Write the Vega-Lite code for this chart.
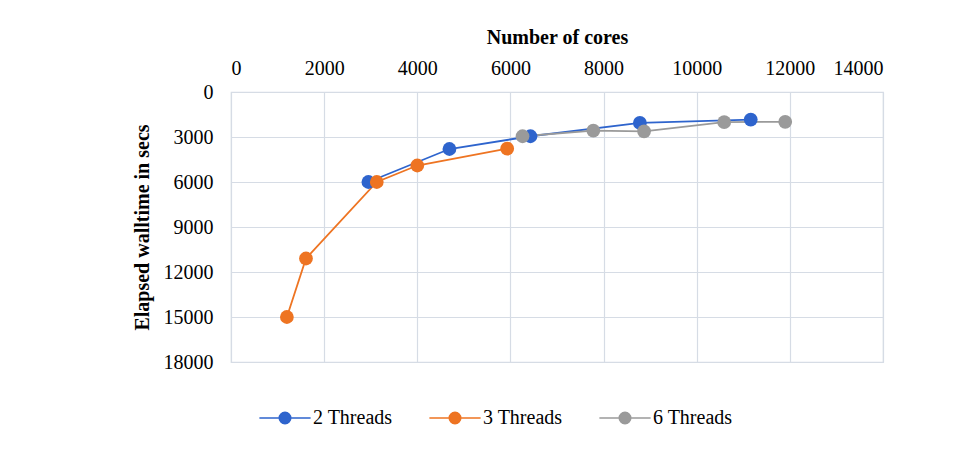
{
  "$schema": "https://vega.github.io/schema/vega-lite/v6.json",
  "autosize": "none",
  "width": 652,
  "height": 270,
  "padding": {"left": 231, "top": 92, "right": 89, "bottom": 92},
  "background": "white",
  "data": {
    "values": [
      {"series": "2 Threads", "cores": 2950, "time": 6000},
      {"series": "2 Threads", "cores": 4690, "time": 3800},
      {"series": "2 Threads", "cores": 6430, "time": 2950},
      {"series": "2 Threads", "cores": 8780, "time": 2060},
      {"series": "2 Threads", "cores": 11160, "time": 1840},
      {"series": "3 Threads", "cores": 1200, "time": 15000},
      {"series": "3 Threads", "cores": 1610, "time": 11100},
      {"series": "3 Threads", "cores": 3130, "time": 6000},
      {"series": "3 Threads", "cores": 4000, "time": 4900},
      {"series": "3 Threads", "cores": 5930, "time": 3780},
      {"series": "6 Threads", "cores": 6260, "time": 2950},
      {"series": "6 Threads", "cores": 7780, "time": 2570},
      {"series": "6 Threads", "cores": 8870, "time": 2620},
      {"series": "6 Threads", "cores": 10590, "time": 2010},
      {"series": "6 Threads", "cores": 11900, "time": 1990}
    ]
  },
  "encoding": {
    "x": {
      "field": "cores", "type": "quantitative",
      "scale": {"domain": [0, 14000], "nice": false},
      "axis": {
        "orient": "top", "title": "Number of cores", "values": [0,2000,4000,6000,8000,10000,12000,14000],
        "format": "d", "titlePadding": 11, "labelPadding": 14, "labelOverlap": false
      }
    },
    "y": {
      "field": "time", "type": "quantitative",
      "scale": {"domain": [0, 18000], "reverse": true, "nice": false},
      "axis": {
        "title": "Elapsed walltime in secs", "values": [0,3000,6000,9000,12000,15000,18000],
        "format": "d", "titlePadding": 11, "labelPadding": 18, "labelOverlap": false
      }
    },
    "color": {
      "field": "series", "type": "nominal",
      "scale": {"domain": ["2 Threads", "3 Threads", "6 Threads"], "range": ["#2E64CD", "#EE7422", "#9A9A9A"]},
      "legend": {
        "title": null, "orient": "none", "direction": "horizontal",
        "legendX": 44, "legendY": 316,
        "symbolType": "M-4,0H4M-0.9,0A0.9,0.9 0 1,1 0.9,0A0.9,0.9 0 1,1 -0.9,0Z",
        "symbolSize": 164, "symbolStrokeWidth": 1.5, "labelOffset": 18, "columnPadding": 33
      }
    }
  },
  "layer": [
    {"mark": {"type": "line", "interpolate": "linear", "strokeWidth": 1.8}},
    {"mark": {"type": "point", "filled": true, "size": 190, "opacity": 1}}
  ],
  "config": {
    "font": "Liberation Serif",
    "view": {"stroke": "#D6DCE5", "strokeWidth": 1.2},
    "axis": {
      "labelFont": "Liberation Serif", "labelFontSize": 20, "labelColor": "#000",
      "titleFont": "Liberation Serif", "titleFontSize": 20, "titleFontWeight": "bold", "titleColor": "#000",
      "domain": false, "ticks": false, "gridColor": "#D6DCE5", "gridWidth": 1.2
    },
    "legend": {"labelFont": "Liberation Serif", "labelFontSize": 20, "labelColor": "#000"}
  }
}
